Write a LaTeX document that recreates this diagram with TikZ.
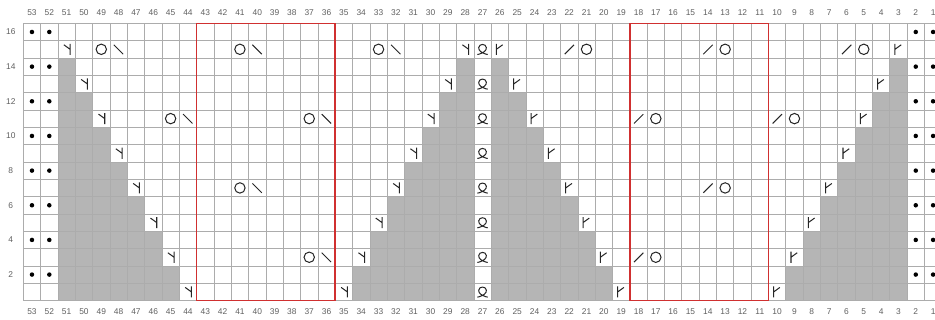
\documentclass[tikz,border=0pt]{standalone}
\usepackage{fontspec}
\setmainfont{Liberation Sans}
\usepackage{xcolor}
\usepackage{tikz}

\definecolor{cellgrey}{RGB}{181,181,181}
\definecolor{linegrey}{RGB}{172,172,172}
\definecolor{labelgrey}{RGB}{95,95,95}
\definecolor{boxred}{RGB}{208,48,48}

\tikzset{
  greycell/.style={fill=cellgrey},
  gridline/.style={draw=linegrey, line width=0.5pt},
  repeatbox/.style={draw=boxred, line width=1.1pt},
  num/.style={font=\fontsize{6.2}{7}\selectfont, text=labelgrey},
  stitch/.style={draw=black!85, line width=0.75pt},
  yarnover/.pic={\draw[stitch] (0.5,0.5) circle (0.3);},
  leftslant/.pic={\draw[stitch] (0.22,0.76) -- (0.76,0.22);},
  rightslant/.pic={\draw[stitch] (0.24,0.22) -- (0.78,0.76);},
  leftdec/.pic={\draw[stitch] (0.7,0.82) -- (0.7,0.18) (0.34,0.76) -- (0.7,0.5);},
  rightdec/.pic={\draw[stitch] (0.3,0.82) -- (0.3,0.18) (0.66,0.76) -- (0.3,0.5);},
  twisted/.pic={\draw[stitch] (0.2,0.2) -- (0.3,0.22) .. controls (0.55,0.3) and (0.74,0.42) .. (0.72,0.6) .. controls (0.7,0.84) and (0.3,0.84) .. (0.28,0.6) .. controls (0.26,0.42) and (0.45,0.3) .. (0.7,0.22) -- (0.8,0.2);},
  purl/.pic={\fill[black] (0.5,0.5) circle (0.13);}
}

\begin{document}
\begin{tikzpicture}[x=0.45cm, y=0.45cm]
  \useasboundingbox (-1.345,-1.12) rectangle (52.61,17.345);
  \clip (-1.345,-1.12) rectangle (52.61,17.345);
  % Shaded triangles
  \foreach \r in {1,...,14} {
    \pgfmathtruncatemacro{\n}{(16-\r)/2}
    \fill[greycell] (2,\r-1) rectangle ++(\n,1);
    \fill[greycell] (26-\n,\r-1) rectangle (26,\r);
    \fill[greycell] (27,\r-1) rectangle ++(\n,1);
    \fill[greycell] (51-\n,\r-1) rectangle (51,\r);
  }
  % Grid
  \draw[gridline, xstep=1, ystep=1] (0,0) grid (53,16);
  % Decreases and twisted stitches
  \foreach \r in {1,3,...,15} {
    \pgfmathtruncatemacro{\n}{(15-\r)/2}
    \pic at (2+\n,\r-1) {leftdec};
    \pic at (25-\n,\r-1) {leftdec};
    \pic at (26,\r-1) {twisted};
    \pic at (27+\n,\r-1) {rightdec};
    \pic at (50-\n,\r-1) {rightdec};
  }
  % Yarn overs, left half
  \foreach \r/\c in {15/49, 15/41, 15/33, 11/45, 11/37, 7/41, 3/37} {
    \pic at (53-\c,\r-1) {yarnover};
    \pic at (54-\c,\r-1) {leftslant};
  }
  % Yarn overs, right half
  \foreach \r/\c in {15/22, 15/14, 15/6, 11/18, 11/10, 7/14, 3/18} {
    \pic at (53-\c,\r-1) {rightslant};
    \pic at (54-\c,\r-1) {yarnover};
  }
  % Purl dots at the edges
  \foreach \r in {2,4,...,16} {
    \foreach \x in {0,1,51,52} {
      \pic at (\x,\r-1) {purl};
    }
  }
  % Repeat boxes
  \draw[repeatbox] (10,0) rectangle (18,16);
  \draw[repeatbox] (35,0) rectangle (43,16);
  % Stitch numbers
  \foreach \c in {1,...,53} {
    \node[num] (top\c) at (53.5-\c,16.62) {\c};
    \node[num] (bot\c) at (53.5-\c,-0.64) {\c};
  }
  % Row numbers
  \foreach \r in {2,4,...,16} {
    \node[num] (row\r) at (-0.72,\r-0.5) {\r};
  }
\end{tikzpicture}
\end{document}
